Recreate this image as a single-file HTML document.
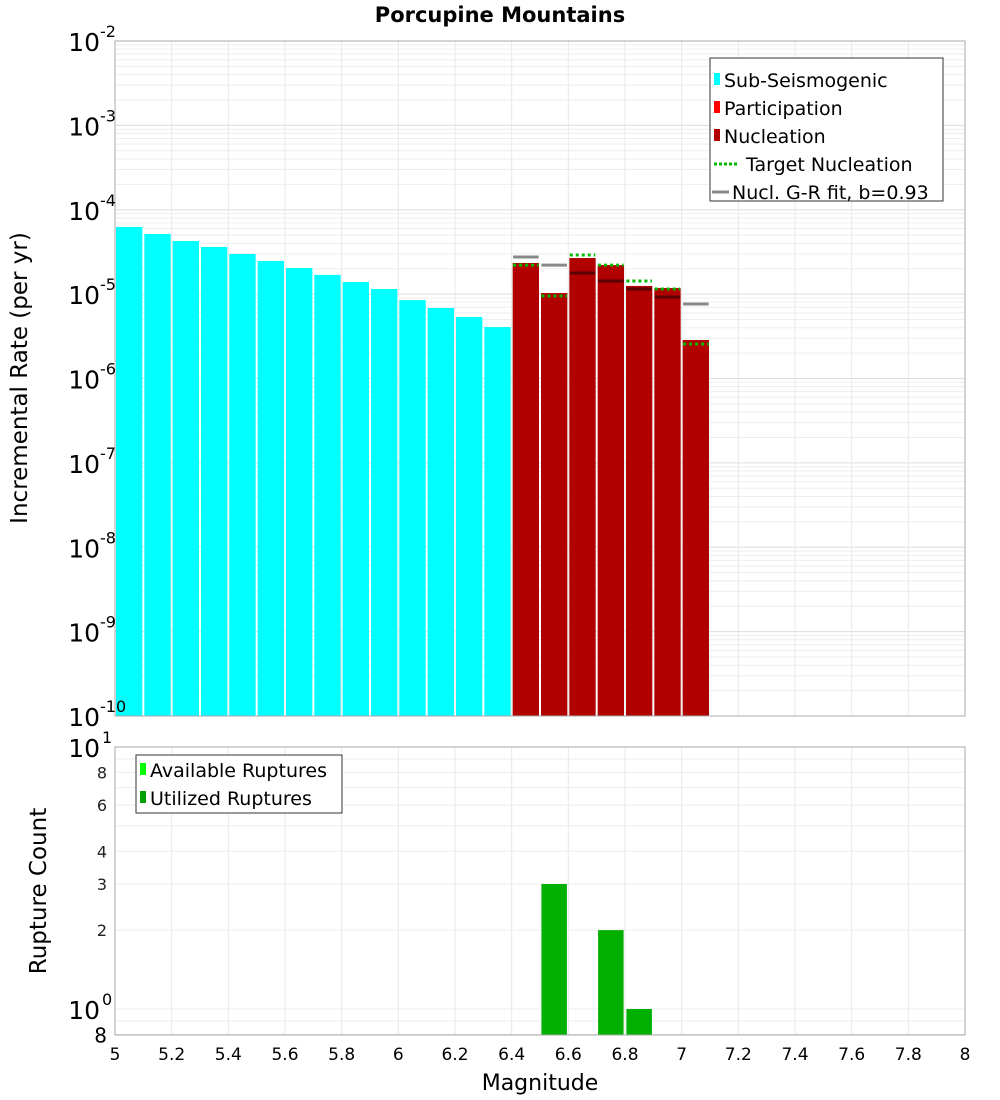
<!DOCTYPE html>
<html><head><meta charset="utf-8"><style>
body{margin:0;background:#fff;}
svg{display:block;font-family:"DejaVu Sans","Liberation Sans",sans-serif;}
</style></head><body>
<svg id="chart" width="1000" height="1100" viewBox="0 0 1000 1100">
<text x="500" y="22" text-anchor="middle" font-size="21" font-weight="bold">Porcupine Mountains</text>
<g id="topPlot"></g>
<g id="botPlot"></g>
<text transform="translate(27,378) rotate(-90)" text-anchor="middle" font-size="23">Incremental Rate (per yr)</text>
<text transform="translate(46,891) rotate(-90)" text-anchor="middle" font-size="23">Rupture Count</text>
<text x="540" y="1090" text-anchor="middle" font-size="22">Magnitude</text>
</svg>
<script>
const subMags=[5.05,5.15,5.25,5.35,5.45,5.55,5.65,5.75,5.85,5.95,6.05,6.15,6.25,6.35];
const subRates=[6.25e-5,5.16e-5,4.26e-5,3.62e-5,2.99e-5,2.47e-5,2.04e-5,1.69e-5,1.39e-5,1.15e-5,8.5e-6,6.85e-6,5.36e-6,4.07e-6];
const nuclMags=[6.45,6.55,6.65,6.75,6.85,6.95,7.05];
const nuclRates=[2.34e-5,1.03e-5,2.68e-5,2.21e-5,1.25e-5,1.18e-5,2.86e-6];
const targetRates=[2.21e-5,9.5e-6,2.91e-5,2.21e-5,1.43e-5,1.15e-5,2.56e-6];
const grRates=[2.75e-5,2.21e-5,1.78e-5,1.43e-5,1.15e-5,9.25e-6,7.64e-6];
const countMags=[6.55,6.75,6.85];
const countVals=[3,2,1];
const xTicks=[5,5.2,5.4,5.6,5.8,6,6.2,6.4,6.6,6.8,7,7.2,7.4,7.6,7.8,8];
const topExps=[-2,-3,-4,-5,-6,-7,-8,-9,-10];
const botTicks=[8,6,4,3,2];

(function(){
const NS='http://www.w3.org/2000/svg';
const L=115,R=965,T1=41,B1=716,T2=747,B2=1035;
const x=m=>L+(m-5)/3*(R-L);
const yTop=v=>T1+(-2-Math.log10(v))*(B1-T1)/8;
const yBot=v=>1009-Math.log10(v)*262;
function mk(p,tag,a){const e=document.createElementNS(NS,tag);for(const k in a)e.setAttribute(k,a[k]);p.appendChild(e);return e;}
const topG=document.getElementById('topPlot'),botG=document.getElementById('botPlot');

mk(topG,'rect',{x:L,y:T1,width:R-L,height:B1-T1,fill:'#fff'});
for(let d=-10;d<-2;d++)for(let k=1;k<10;k++){const yy=yTop(k*Math.pow(10,d));
 const g=mk(topG,'line',{x1:L,x2:R,y1:yy,y2:yy,stroke:k==1?'#ddd':'#eee','stroke-width':1});
 
 }
for(const v of [0.8,0.9,1,2,3,4,5,6,7,8,9]){const yy=yBot(v);
 const g=mk(botG,'line',{x1:L,x2:R,y1:yy,y2:yy,stroke:'#eee'});
 
 }
xTicks.forEach(t=>{for(const [p,a,b] of [[topG,T1,B1],[botG,T2,B2]]){
 const g=mk(p,'line',{x1:x(t),x2:x(t),y1:a,y2:b,stroke:'#e8e8e8'});
 
 }});

subMags.forEach((m,i)=>{const yy=yTop(subRates[i]);
 const r=mk(topG,'rect',{x:x(m-0.05)+1,y:yy,width:x(m+0.05)-x(m-0.05)-2,height:B1-yy,fill:'#00ffff'});
 
 });
nuclMags.forEach((m,i)=>{const yy=yTop(nuclRates[i]);
 const r=mk(topG,'rect',{x:x(m-0.05)+1,y:yy,width:x(m+0.05)-x(m-0.05)-2,height:B1-yy,fill:'#b00000'});
 
 });
nuclMags.forEach((m,i)=>{const yy=yTop(grRates[i]);const inside=grRates[i]<nuclRates[i];
 const l=mk(topG,'line',{x1:x(m-0.045),x2:x(m+0.045),y1:yy,y2:yy,stroke:inside?'#5a0000':'#888','stroke-width':3});
 
 });
nuclMags.forEach((m,i)=>{const yy=yTop(targetRates[i]);
 const l=mk(topG,'line',{x1:x(m-0.045),x2:x(m+0.045),y1:yy,y2:yy,stroke:'#00bb00','stroke-width':3,'stroke-dasharray':'3,3'});
 
 });
mk(topG,'rect',{x:L,y:T1,width:R-L,height:B1-T1,fill:'none',stroke:'#aaa'});

topExps.forEach(e=>{const yy=yTop(Math.pow(10,e));
 const t=mk(topG,'text',{x:100,y:yy+10,'text-anchor':'end','font-size':25});
 t.textContent='10';
 
 
 const s=mk(topG,'text',{x:100,y:yy-4,'font-size':16});s.textContent=String(e);
 
 });

countMags.forEach((m,i)=>{const yy=yBot(countVals[i]);
 const r=mk(botG,'rect',{x:x(m-0.045),y:yy,width:x(m+0.045)-x(m-0.045),height:B2-yy,fill:'#00b000'});
 
 });
mk(botG,'rect',{x:L,y:T2,width:R-L,height:B2-T2,fill:'none',stroke:'#aaa'});
[[1,'1'],[0,'0']].forEach(([e,s])=>{const yy=yBot(Math.pow(10,e));
 const t=mk(botG,'text',{x:100,y:yy+10,'text-anchor':'end','font-size':25});t.textContent='10';
 
 
 const u=mk(botG,'text',{x:102,y:yy-4,'font-size':16});u.textContent=s;
 
 });
botTicks.forEach(v=>{const t=mk(botG,'text',{x:107,y:yBot(v)+6,'text-anchor':'end','font-size':16,fill:'#222'});t.textContent=v;
 
 });
{const t=mk(botG,'text',{x:107,y:yBot(0.8)+8,'text-anchor':'end','font-size':20});t.textContent='8';
 
 }
xTicks.forEach(v=>{const t=mk(botG,'text',{x:x(v),y:1060,'text-anchor':'middle','font-size':17});
 t.textContent=String(Math.round(v*10)/10);
 
 });

const lg=mk(topG,'g',{});


mk(lg,'rect',{x:710,y:58,width:233,height:143,fill:'#fff',stroke:'#333'});
const items=[['Sub-Seismogenic','#00ffff','box'],['Participation','#ff0000','box'],['Nucleation','#b00000','box'],['Target Nucleation','#00bb00','dash'],['Nucl. G-R fit, b=0.93','#888','line']];
items.forEach((it,i)=>{const yy=80+i*28;let tx=724;
 if(it[2]=='box')mk(lg,'rect',{x:714,y:yy-7,width:6,height:12,fill:it[1]});
 else if(it[2]=='dash'){mk(lg,'line',{x1:714,x2:739,y1:yy,y2:yy,stroke:it[1],'stroke-width':3,'stroke-dasharray':'3,2'});tx=746;}
 else {mk(lg,'line',{x1:712,x2:729,y1:yy,y2:yy,stroke:it[1],'stroke-width':3});tx=732;}
 const t=mk(lg,'text',{x:tx,y:yy+7,'font-size':19});t.textContent=it[0];
 
 });
const lg2=mk(botG,'g',{});


mk(lg2,'rect',{x:136,y:755,width:206,height:58,fill:'#fff',stroke:'#333'});
[['Available Ruptures','#00ff00'],['Utilized Ruptures','#00a000']].forEach((it,i)=>{const yy=770+i*28;
 mk(lg2,'rect',{x:140,y:yy-7,width:6,height:12,fill:it[1]});
 const t=mk(lg2,'text',{x:150,y:yy+7,'font-size':19});t.textContent=it[0];
 
 });
})();
</script>
</body></html>
